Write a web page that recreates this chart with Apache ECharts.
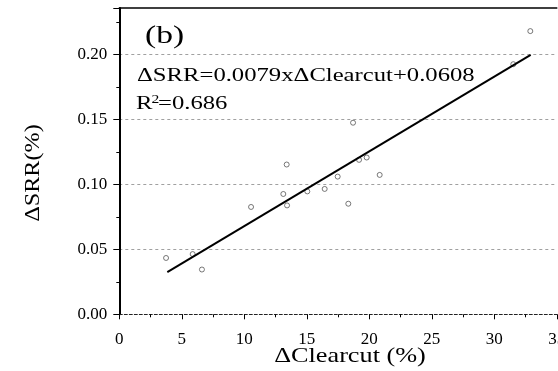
<!DOCTYPE html>
<html>
<head>
<meta charset="utf-8">
<script src="https://cdn.jsdelivr.net/npm/echarts@6/dist/echarts.min.js"></script>
<style>html,body{margin:0;padding:0;background:#fff}#c{width:558px;height:371px}</style>
</head>
<body>
<div id="c"></div>
<script>
// Data
const clearcut = [3.74, 5.87, 6.61, 10.54, 13.12, 13.39, 13.42, 15.04, 16.43, 17.47, 18.32, 18.70, 19.18, 19.79, 20.83, 31.52, 32.88];
const srr      = [0.0434, 0.0464, 0.0345, 0.0827, 0.0927, 0.1154, 0.0839, 0.0947, 0.0966, 0.1061, 0.0852, 0.1476, 0.1190, 0.1208, 0.1074, 0.1927, 0.2182];
const fitX = [3.84, 32.91];
const fitY = [0.0325, 0.1998];
const xTicks = [0, 5, 10, 15, 20, 25, 30, 35];
const yTicks = [0, 0.05, 0.10, 0.15, 0.20];
const panelLabel = '(b)';
const equation = 'ΔSRR=0.0079xΔClearcut+0.0608';
const r2Parts = ['R', '2', '=0.686'];
const xName = 'ΔClearcut (%)';
const yName = 'ΔSRR(%)';

const FONT = '"Liberation Serif", "Times New Roman", serif';
const chart = echarts.init(document.getElementById('c'), null, {renderer: 'canvas'});
const points = clearcut.map((x, i) => [x, srr[i]]);
const fit = fitX.map((x, i) => [x, fitY[i]]);

chart.setOption({
  animation: false,
  backgroundColor: '#fff',
  grid: {left: 119.3, top: 8, right: 1.2, bottom: 56.7, containLabel: false, outerBoundsMode: 'none'},
  xAxis: [{
    type: 'value', min: 0, max: 35, interval: 5,
    axisLine: {show: true, lineStyle: {color: '#222', width: 1, type: [3, 2]}},
    axisTick: {show: true, length: 5, lineStyle: {color: '#000', width: 1}},
    minorTick: {show: true, splitNumber: 2, length: 3, lineStyle: {color: '#000', width: 1}},
    axisLabel: {show: true, margin: 17, fontFamily: FONT, fontSize: 17, color: '#000',
      hideOverlap: false, showMaxLabel: true,
      formatter: v => xTicks.includes(v) ? String(v) : ''},
    splitLine: {show: false}
  }, {
    type: 'value', min: 0, max: 35, position: 'top',
    axisLine: {show: true, onZero: false, lineStyle: {color: '#000', width: 1.5}},
    axisTick: {show: false}, axisLabel: {show: false}, splitLine: {show: false}
  }],
  yAxis: [{
    type: 'value', min: 0, max: 0.236, interval: 0.05,
    axisLine: {show: true, onZero: false, lineStyle: {color: '#000', width: 2}},
    axisTick: {show: true, length: 6, lineStyle: {color: '#000', width: 1}},
    axisLabel: {show: true, margin: 12, fontFamily: FONT, fontSize: 17, color: '#000',
      formatter: v => {
        const m = yTicks.find(t => Math.abs(t - v) < 1e-9);
        return m === undefined ? '' : m.toFixed(2);
      }},
    splitLine: {show: true, showMinLine: false, showMaxLine: false,
      lineStyle: {color: '#a0a0a0', width: 1, type: [3, 3]}}
  }, {
    type: 'value', min: 0, max: 0.236, interval: 0.025, position: 'left',
    axisLine: {show: false},
    axisTick: {show: true, length: 3, lineStyle: {color: '#000', width: 1}},
    axisLabel: {show: false}, splitLine: {show: false}
  }],
  series: [{
    type: 'scatter', data: points, symbol: 'circle', symbolSize: 5,
    itemStyle: {color: '#fff', borderColor: '#444', borderWidth: 0.9}, z: 3
  }, {
    type: 'line', data: fit, showSymbol: false, symbol: 'none',
    lineStyle: {color: '#000', width: 2}, z: 4
  }],
  graphic: [
    {type: 'text', x: 145, y: 36, scaleX: 1.29, z: 10,
      style: {text: panelLabel, font: '26px ' + FONT, fill: '#000', align: 'left', verticalAlign: 'middle'}},
    {type: 'text', x: 137, y: 76, scaleX: 1.37, z: 10,
      style: {text: equation, font: '18px ' + FONT, fill: '#000', align: 'left', verticalAlign: 'middle'}},
    {type: 'text', x: 136, y: 104, scaleX: 1.37, z: 10,
      style: {text: r2Parts[0], font: '18px ' + FONT, fill: '#000', align: 'left', verticalAlign: 'middle'}},
    {type: 'text', x: 151.5, y: 100, scaleX: 1.2, z: 10,
      style: {text: r2Parts[1], font: '13px ' + FONT, fill: '#000', align: 'left', verticalAlign: 'middle'}},
    {type: 'text', x: 158, y: 104, scaleX: 1.37, z: 10,
      style: {text: r2Parts[2], font: '18px ' + FONT, fill: '#000', align: 'left', verticalAlign: 'middle'}},
    {type: 'text', x: 350, y: 356, scaleX: 1.25, z: 10,
      style: {text: xName, font: '21px ' + FONT, fill: '#000', align: 'center', verticalAlign: 'middle'}},
    {type: 'text', x: 34, y: 173, rotation: Math.PI / 2, scaleX: 1.21, z: 10,
      style: {text: yName, font: '20px ' + FONT, fill: '#000', align: 'center', verticalAlign: 'middle'}}
  ]
});
</script>
</body>
</html>
